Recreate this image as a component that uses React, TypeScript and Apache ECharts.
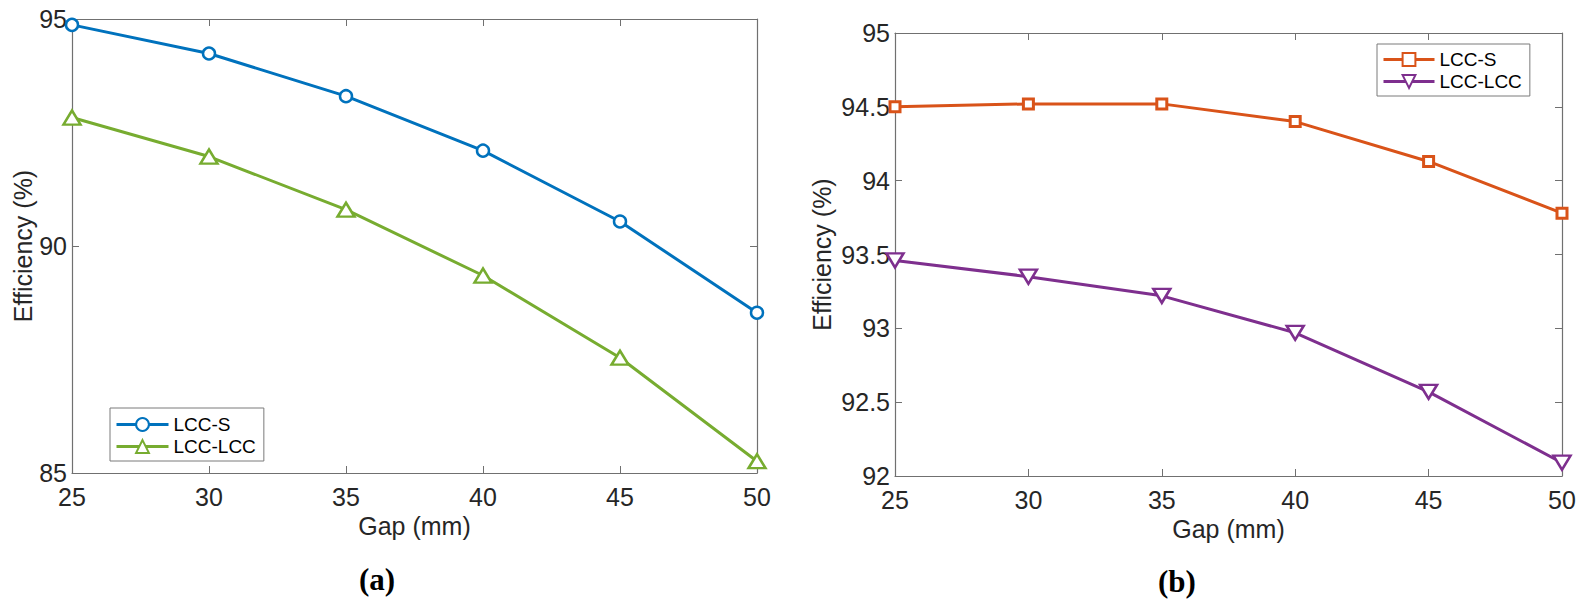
import React, { useEffect, useRef } from "react";
import * as echarts from "echarts";

const gaps = [25, 30, 35, 40, 45, 50];
const aLccS = [94.87, 94.24, 93.3, 92.1, 90.54, 88.53];
const aLccLcc = [92.83, 91.97, 90.8, 89.35, 87.54, 85.26];
const bLccS = [94.5, 94.52, 94.52, 94.4, 94.13, 93.78];
const bLccLcc = [93.46, 93.35, 93.22, 92.97, 92.57, 92.09];
const seriesNames = ["LCC-S", "LCC-LCC"];
const xName = "Gap (mm)";
const yName = "Efficiency (%)";
const panelLabels = ["(a)", "(b)"];

const FONT = "Liberation Sans, Arial, Helvetica, sans-serif";
const TXT = "#262626";
const AX = "#707070";

const toPairs = (ys: number[]) => gaps.map((g, i) => [g, ys[i]]);

function xAxes(grid: number) {
  const base = {
    type: "value" as const,
    gridIndex: grid,
    min: 25,
    max: 50,
    interval: 5,
    splitLine: { show: false },
    axisLine: { show: true, lineStyle: { color: AX, width: 1.2 } },
    axisTick: { show: true, inside: true, length: 7, lineStyle: { color: AX } },
  };
  return [
    {
      ...base,
      position: "bottom",
      name: xName,
      nameLocation: "middle",
      nameGap: 34,
      nameTextStyle: { fontFamily: FONT, fontSize: 25, color: TXT },
      axisLabel: { fontFamily: FONT, fontSize: 25, color: TXT, margin: 11 },
    },
    { ...base, position: "top", axisLabel: { show: false } },
  ];
}

function yAxes(grid: number, min: number, max: number, interval: number, nameGap: number) {
  const base = {
    type: "value" as const,
    gridIndex: grid,
    min,
    max,
    interval,
    splitLine: { show: false },
    axisLine: { show: true, lineStyle: { color: AX, width: 1.2 } },
    axisTick: { show: true, inside: true, length: 7, lineStyle: { color: AX } },
  };
  return [
    {
      ...base,
      position: "left",
      name: yName,
      nameLocation: "middle",
      nameGap,
      nameTextStyle: { fontFamily: FONT, fontSize: 25, color: TXT },
      axisLabel: { fontFamily: FONT, fontSize: 25, color: TXT, margin: 5 },
    },
    { ...base, position: "right", axisLabel: { show: false } },
  ];
}

function lineSeries(
  name: string,
  data: number[],
  color: string,
  grid: number,
  symbol: string,
  symbolSize: number | number[],
  symbolRotate = 0,
  borderWidth = 2.5
) {
  return {
    type: "line",
    name,
    data: toPairs(data),
    xAxisIndex: grid * 2,
    yAxisIndex: grid * 2,
    symbol,
    symbolSize,
    symbolRotate,
    showAllSymbol: true,
    lineStyle: { color, width: 3 },
    itemStyle: { color: "#ffffff", borderColor: color, borderWidth },
    emphasis: { disabled: true },
    z: 3,
  };
}

const legendBase = {
  orient: "vertical",
  itemHeight: 16,
  itemGap: 3,
  borderColor: "#7a7a7a",
  borderWidth: 1,
  backgroundColor: "#ffffff",
  selectedMode: false,
  lineStyle: { width: 3 },
  textStyle: { fontFamily: FONT, fontSize: 19, color: "#000" },
};

export default function App() {
  const ref = useRef<HTMLDivElement>(null);
  useEffect(() => {
    if (!ref.current) return;
    const chart = echarts.init(ref.current, undefined, { renderer: "svg" });
    const nA = seriesNames.map((s) => "(a) " + s);
    const nB = seriesNames.map((s) => "(b) " + s);
    const fmt = (n: string) => n.replace(/^\([ab]\) /, "");
    chart.setOption({
      animation: false,
      backgroundColor: "#ffffff",
      grid: [
        { left: 72, top: 19, width: 685, height: 454 },
        { left: 895, top: 33, width: 667, height: 443 },
      ],
      xAxis: [...xAxes(0), ...xAxes(1)],
      yAxis: [...yAxes(0, 85, 95, 5, 34), ...yAxes(1, 92, 95, 0.5, 61)],
      legend: [
        {
          ...legendBase,
          data: nA,
          formatter: fmt,
          left: 110,
          top: 408,
          itemWidth: 52,
          padding: [7, 8, 5, 5],
        },
        {
          ...legendBase,
          data: nB,
          formatter: fmt,
          left: 1377,
          top: 44,
          itemWidth: 51,
          padding: [6, 8, 5, 5],
        },
      ],
      series: [
        lineSeries(nA[0], aLccS, "#0072BD", 0, "circle", 12),
        lineSeries(nA[1], aLccLcc, "#77AC30", 0, "triangle", [17, 14]),
        lineSeries(nB[0], bLccS, "#D95319", 1, "rect", 10, 0, 3),
        lineSeries(nB[1], bLccLcc, "#7E2F8E", 1, "triangle", [17, 14], 180),
      ],
      graphic: [
        {
          type: "text",
          left: 383 - 24,
          top: 564,
          style: {
            text: panelLabels[0],
            font: "bold 31px 'Liberation Serif', 'DejaVu Serif', serif",
            fill: "#000",
          },
        },
        {
          type: "text",
          left: 1182 - 24,
          top: 566,
          style: {
            text: panelLabels[1],
            font: "bold 31px 'Liberation Serif', 'DejaVu Serif', serif",
            fill: "#000",
          },
        },
      ],
    });
    return () => chart.dispose();
  }, []);
  return (
    <div
      ref={ref}
      style={{ width: 1583, height: 613, position: "absolute", left: 0, top: 0 }}
    />
  );
}
